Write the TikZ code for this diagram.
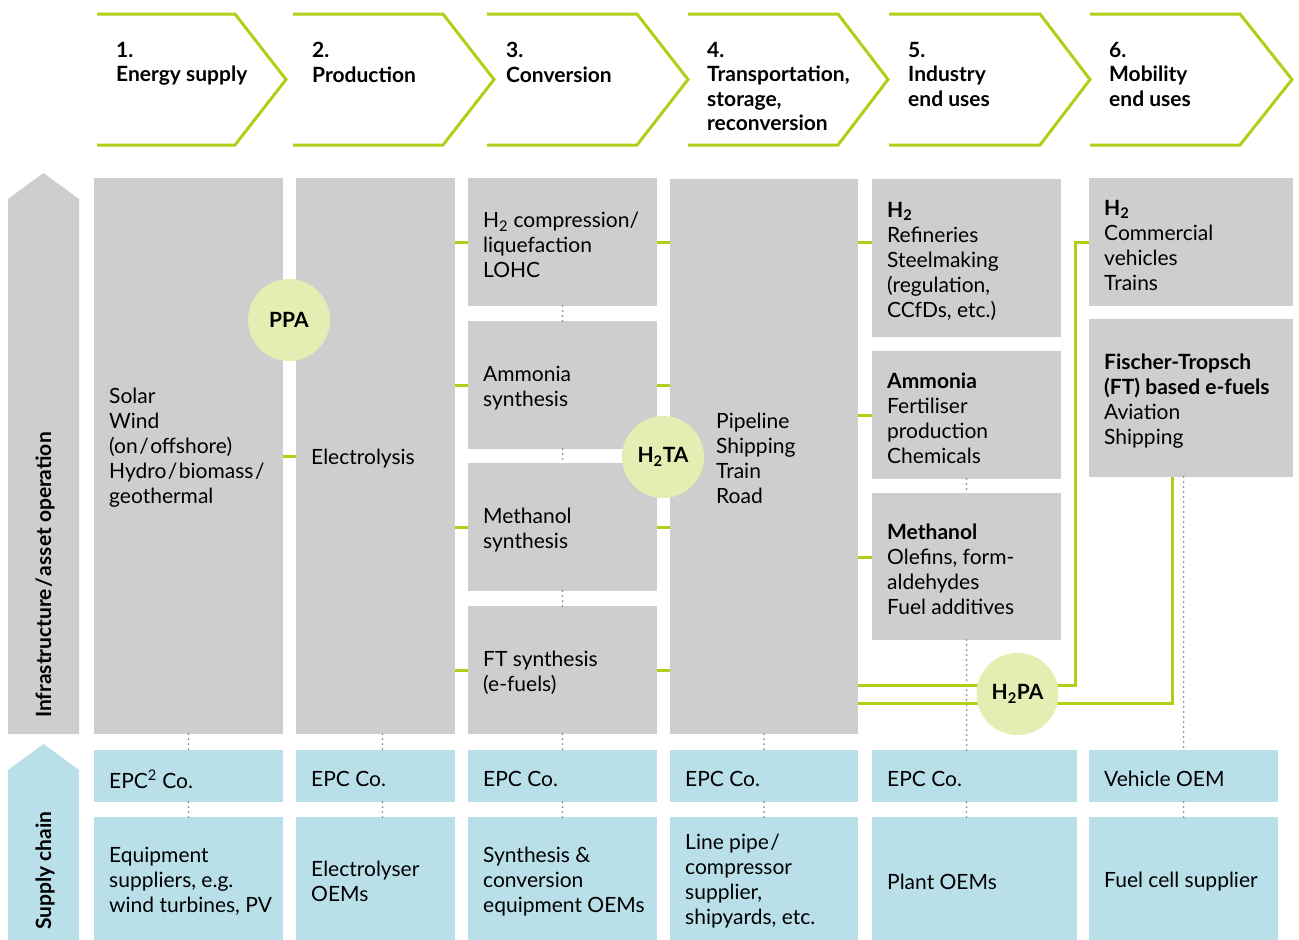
\documentclass[tikz,border=0pt]{standalone}
\usepackage{fontspec}
\setmainfont{Lato}
\definecolor{boxgray}{RGB}{205,206,206}
\definecolor{boxblue}{RGB}{185,223,232}
\definecolor{lime}{RGB}{181,204,24}
\definecolor{paleLime}{RGB}{230,237,178}
\definecolor{dotgray}{RGB}{140,140,140}

\begin{document}
\begin{tikzpicture}[x=1pt,y=-1pt,
  font=\fontsize{21}{25}\selectfont,
  chevron/.style={draw=lime, line width=3pt},
  steplbl/.style={anchor=north west, align=left, inner sep=0pt,
    font=\fontsize{21}{24.5}\selectfont\bfseries},
  infbox/.style={fill=boxgray, anchor=north west, inner sep=0pt, outer sep=0pt},
  supbox/.style={fill=boxblue, anchor=north west, inner sep=0pt, outer sep=0pt},
  lbl/.style={anchor=west, align=left, inner sep=0pt, xshift=15pt, yshift=-3pt},
  agree/.style={circle, fill=paleLime, minimum size=82pt, inner sep=0pt,
    font=\fontsize{21}{24}\selectfont\bfseries},
  link/.style={draw=lime, line width=3pt},
  dots/.style={draw=dotgray, line width=2pt, line cap=round, dash pattern=on 0pt off 5pt},
  sidelbl/.style={rotate=90, anchor=west, inner sep=0pt, font=\fontsize{21}{24}\selectfont\bfseries}
]
\useasboundingbox (0,0) rectangle (1299,940);

% value chain steps
\foreach \s/\c/\t in {97/235/286, 293/443/494, 487/637/688, 688/838/888, 889/1040/1090, 1090/1240/1292}
  \draw[chevron] (\s,14) -- (\c,14) -- (\t,79.5) -- (\c,145) -- (\s,145);
\node[steplbl] (step1) at (116,42) {1.\\Energy supply};
\node[steplbl] (step2) at (312,42) {2.\\Production};
\node[steplbl] (step3) at (506,42) {3.\\Conversion};
\node[steplbl] (step4) at (707,42) {4.\\Transportation,\\storage,\\reconversion};
\node[steplbl] (step5) at (908,42) {5.\\Industry\\end uses};
\node[steplbl] (step6) at (1109,42) {6.\\Mobility\\end uses};

% side arrows
\fill[boxgray] (8,199) -- (43.5,173) -- (79,199) -- (79,734) -- (8,734) -- cycle;
\fill[boxblue] (8,770) -- (43.5,744) -- (79,770) -- (79,940) -- (8,940) -- cycle;
\node[sidelbl] (infra) at (45,718) {Infrastructure\kern1.5pt/\kern1.5pt asset operation};
\node[sidelbl] (chain) at (45,930) {Supply chain};

% infrastructure / asset operation
\node[infbox, minimum width=189, minimum height=556] (solar) at (94,178) {};
\node[infbox, minimum width=159, minimum height=556] (elec) at (296,178) {};
\node[infbox, minimum width=189, minimum height=128] (comp) at (468,178) {};
\node[infbox, minimum width=189, minimum height=128] (ammsyn) at (468,321) {};
\node[infbox, minimum width=189, minimum height=128] (methsyn) at (468,463) {};
\node[infbox, minimum width=189, minimum height=128] (ftsyn) at (468,606) {};
\node[infbox, minimum width=188, minimum height=555] (trans) at (670,179) {};
\node[infbox, minimum width=189, minimum height=158] (indh) at (872,179) {};
\node[infbox, minimum width=189, minimum height=128] (indnh) at (872,351) {};
\node[infbox, minimum width=189, minimum height=147] (indmeoh) at (872,493) {};
\node[infbox, minimum width=204, minimum height=128] (mobh) at (1089,178) {};
\node[infbox, minimum width=204, minimum height=158] (mobft) at (1089,319) {};

\node[lbl] at ([yshift=11]solar.west) {Solar\\Wind\\(on\kern1.5pt/\kern1.5pt offshore)\\Hydro\kern1.5pt/\kern1.5pt biomass\kern1.5pt/\\geothermal};
\node[lbl] at (elec.west) {Electrolysis};
\node[lbl] at (comp.west) {H\textsubscript{2} compression/\\liquefaction\\LOHC};
\node[lbl] at (ammsyn.west) {Ammonia\\synthesis};
\node[lbl] at (methsyn.west) {Methanol\\synthesis};
\node[lbl] at (ftsyn.west) {FT synthesis\\(e-fuels)};
\node[lbl, xshift=31pt] at ([yshift=1]trans.west) {Pipeline\\Shipping\\Train\\Road};
\node[lbl] at (indh.west) {\textbf{H\textsubscript{2}}\\Refineries\\Steelmaking\\(regulation,\\CCfDs, etc.)};
\node[lbl] at (indnh.west) {\textbf{Ammonia}\\Fertiliser\\production\\Chemicals};
\node[lbl] at (indmeoh.west) {\textbf{Methanol}\\Olefins, form-\\aldehydes\\Fuel additives};
\node[lbl] at (mobh.west) {\textbf{H\textsubscript{2}}\\Commercial\\vehicles\\Trains};
\node[lbl] at (mobft.west) {\textbf{Fischer-Tropsch}\\\textbf{(FT) based e-fuels}\\Aviation\\Shipping};

% supply chain
\node[supbox, minimum width=189, minimum height=52] (epc1) at (94,750) {};
\node[supbox, minimum width=159, minimum height=52] (epc2) at (296,750) {};
\node[supbox, minimum width=189, minimum height=52] (epc3) at (468,750) {};
\node[supbox, minimum width=188, minimum height=52] (epc4) at (670,750) {};
\node[supbox, minimum width=205, minimum height=52] (epc5) at (872,750) {};
\node[supbox, minimum width=189, minimum height=52] (oem6) at (1089,750) {};
\node[supbox, minimum width=189, minimum height=123] (sup1) at (94,817) {};
\node[supbox, minimum width=159, minimum height=123] (sup2) at (296,817) {};
\node[supbox, minimum width=189, minimum height=123] (sup3) at (468,817) {};
\node[supbox, minimum width=188, minimum height=123] (sup4) at (670,817) {};
\node[supbox, minimum width=205, minimum height=123] (sup5) at (872,817) {};
\node[supbox, minimum width=189, minimum height=123] (sup6) at (1089,817) {};

\node[lbl] at (epc1.west) {EPC\textsuperscript{2} Co.};
\node[lbl] at (epc2.west) {EPC Co.};
\node[lbl] at (epc3.west) {EPC Co.};
\node[lbl] at (epc4.west) {EPC Co.};
\node[lbl] at (epc5.west) {EPC Co.};
\node[lbl] at (oem6.west) {Vehicle OEM};
\node[lbl] at (sup1.west) {Equipment\\suppliers, e.g.\\wind turbines, PV};
\node[lbl] at (sup2.west) {Electrolyser\\OEMs};
\node[lbl] at (sup3.west) {Synthesis \&\\conversion\\equipment OEMs};
\node[lbl] at (sup4.west) {Line pipe\kern1.5pt/\\compressor\\supplier,\\shipyards, etc.};
\node[lbl] at (sup5.west) {Plant OEMs};
\node[lbl] at (sup6.west) {Fuel cell supplier};

% dotted links
\draw[dots] (solar.south) -- (epc1.north);
\draw[dots] (epc1.south) -- (sup1.north);
\draw[dots] ([xshift=7]elec.south) -- ([xshift=7]epc2.north);
\draw[dots] ([xshift=7]epc2.south) -- ([xshift=7]sup2.north);
\draw[dots] (comp.south) -- (ammsyn.north);
\draw[dots] (ammsyn.south) -- (methsyn.north);
\draw[dots] (methsyn.south) -- (ftsyn.north);
\draw[dots] (ftsyn.south) -- (epc3.north);
\draw[dots] (epc3.south) -- (sup3.north);
\draw[dots] (trans.south) -- (epc4.north);
\draw[dots] (epc4.south) -- (sup4.north);
\draw[dots] (indnh.south) -- (indmeoh.north);
\draw[dots] (indmeoh.south) -- (indmeoh.south |- epc5.north);
\draw[dots] (indmeoh.south |- epc5.south) -- (indmeoh.south |- sup5.north);
\draw[dots] (mobft.south -| oem6.north) -- (oem6.north);
\draw[dots] (oem6.south) -- (sup6.north);

% green links
\draw[link] (solar.east) -- (elec.west);
\foreach \b in {comp, ammsyn, methsyn, ftsyn} {
  \draw[link] (elec.east |- \b.west) -- (\b.west);
  \draw[link] (\b.east) -- (trans.west |- \b.east);
}
\draw[link] (trans.east |- comp.east) -- (indh.west |- comp.east);
\draw[link] (trans.east |- indnh.west) -- (indnh.west);
\draw[link] ([yshift=9.5]trans.east |- indmeoh.west) -- ([yshift=9.5]indmeoh.west);

\coordinate (hub) at (1017.5,694);
\coordinate (hi) at ([yshift=9]hub);
\coordinate (lo) at ([yshift=-9]hub);
\coordinate (bendh) at ([xshift=-14]mobh.west);
\draw[link] (trans.east |- hi) -| (bendh) -- (mobh.west);
\draw[link] (trans.east |- lo) -| ([xshift=-19]mobft.south);

% agreements
\node[agree] (ppa) at (289,320) {PPA};
\node[agree] (h2ta) at (663,457) {H\textsubscript{2}TA};
\node[agree] (h2pa) at (hub) {H\textsubscript{2}PA};
\end{tikzpicture}
\end{document}
